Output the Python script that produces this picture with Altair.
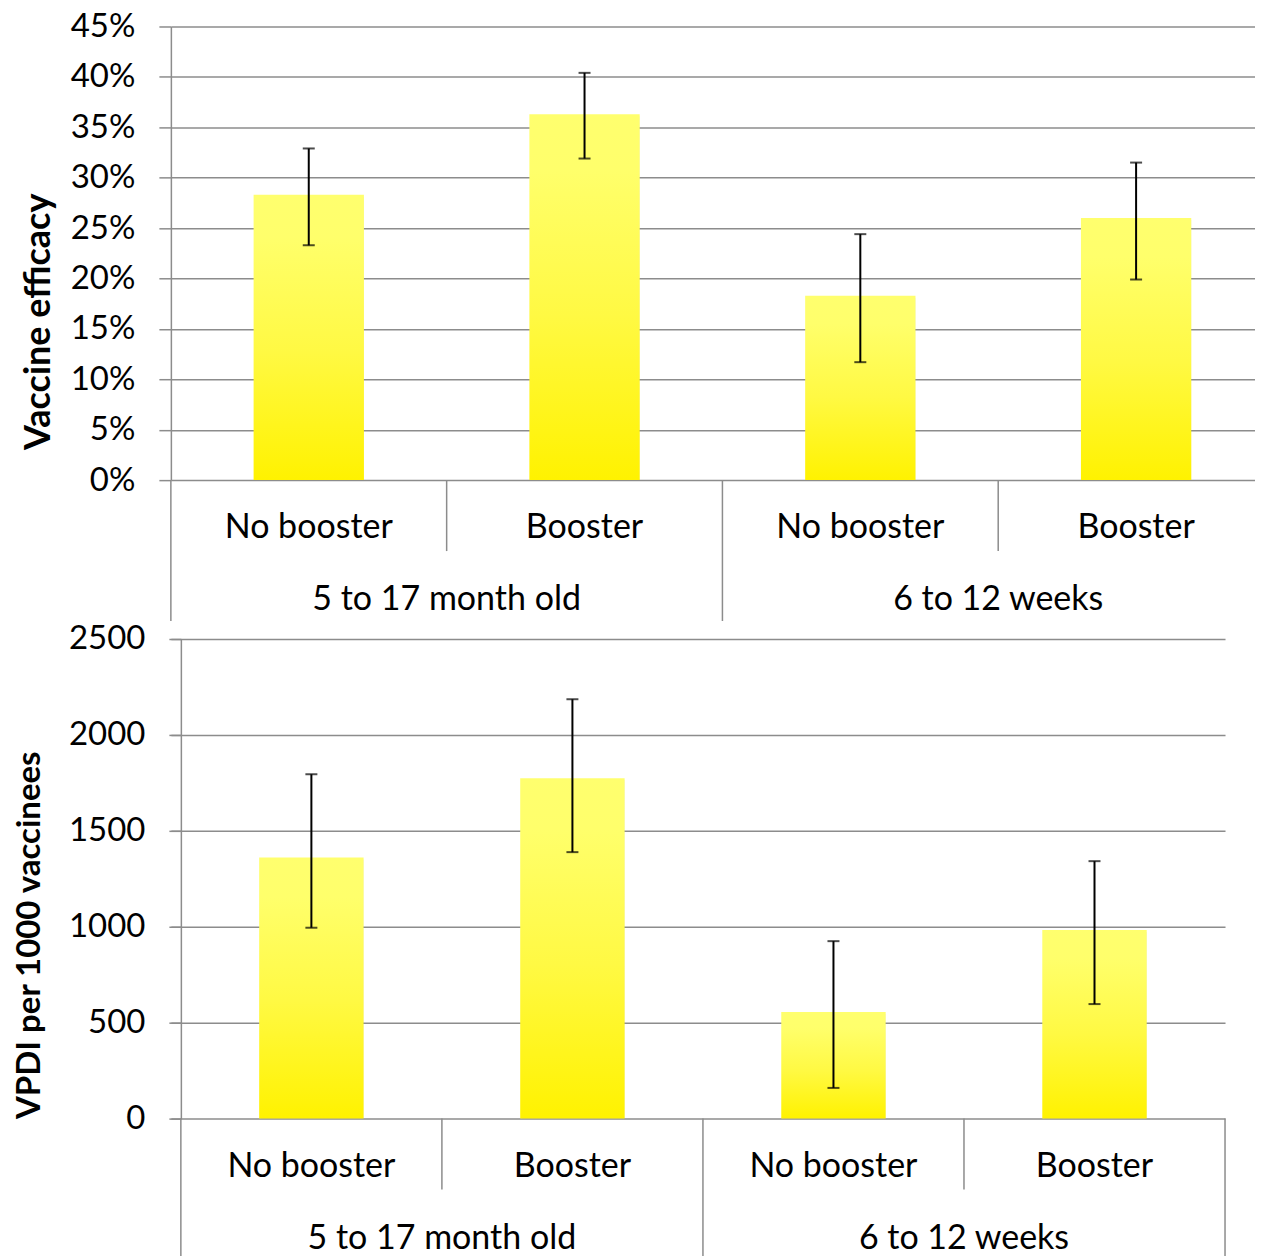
import altair as alt
import pandas as pd

groups = ["5 to 17 month old", "5 to 17 month old", "6 to 12 weeks", "6 to 12 weeks"]
boosters = ["No booster", "Booster", "No booster", "Booster"]

efficacy = [0.283, 0.363, 0.183, 0.260]
efficacy_low = [0.233, 0.319, 0.117, 0.199]
efficacy_high = [0.329, 0.404, 0.244, 0.315]
efficacy_ticks = [0, 0.05, 0.10, 0.15, 0.20, 0.25, 0.30, 0.35, 0.40, 0.45]

vpdi = [1361, 1774, 556, 983]
vpdi_low = [995, 1389, 160, 597]
vpdi_high = [1795, 2186, 925, 1342]
vpdi_ticks = [0, 500, 1000, 1500, 2000, 2500]

FONT = "Lato"
GRID = "#8c8c8c"
LFS = 34   # category label size
TFS = 33   # tick label size

gradient = alt.Gradient(
    gradient="linear",
    stops=[
        alt.GradientStop(color="#FFF200", offset=0),
        alt.GradientStop(color="#FFF943", offset=0.45),
        alt.GradientStop(color="#FFFF6B", offset=0.85),
        alt.GradientStop(color="#FFFF6E", offset=1),
    ],
    x1=0, x2=0, y1=1, y2=0,
)


def panel(values, low, high, ticks, fmt, title, width, height, xmin, xmax,
          axis_offset, title_x, title_y, title_size):
    n = len(values)
    bars = pd.DataFrame({
        "slot": list(range(n)), "group": groups, "booster": boosters,
        "value": values, "low": low, "high": high,
    })
    bars["mid"] = bars["slot"] + 0.5
    bars["left"] = bars["mid"] - 0.2
    bars["right"] = bars["mid"] + 0.2

    rows = []
    for i in range(n + 1):
        major = i == 0 or i == n or groups[i] != groups[i - 1]
        if i <= xmax:
            rows.append({"pos": i, "major": major})
    dividers = pd.DataFrame(rows)

    glab = bars.groupby("group", sort=False)["mid"].mean().reset_index()

    xs = alt.Scale(domain=[xmin, xmax], nice=False, zero=False)
    ys = alt.Scale(domain=[0, ticks[-1]], nice=False)

    yaxis = alt.Axis(
        values=ticks, format=fmt, title=title, grid=True, gridColor=GRID,
        gridWidth=1.5, domainColor=GRID, domainWidth=1.5, tickColor=GRID,
        tickSize=12, tickWidth=1.5, labelFont=FONT, labelFontSize=TFS,
        labelColor="black", labelPadding=24, titleFont=FONT, titleFontSize=title_size,
        titleFontWeight="bold", titleColor="black", titleX=title_x, titleY=title_y,
        titleAngle=270, titleBaseline="alphabetic", titleAlign="center",
        offset=axis_offset,
    )

    base = alt.Chart(bars)
    shadow = base.mark_bar(color="#000000", opacity=0.08, xOffset=2, yOffset=2).encode(
        x=alt.X("left:Q", scale=xs, axis=None), x2="right:Q",
        y=alt.Y("value:Q", scale=ys, axis=yaxis), y2=alt.datum(0),
    )
    bar = base.mark_bar(color=gradient).encode(
        x=alt.X("left:Q", scale=xs, axis=None), x2="right:Q",
        y=alt.Y("value:Q", scale=ys, axis=yaxis), y2=alt.datum(0),
    )
    err = base.mark_rule(color="black", strokeWidth=2).encode(
        x=alt.X("mid:Q", scale=xs, axis=None),
        y=alt.Y("low:Q", scale=ys), y2="high:Q",
    )
    cap_lo = base.mark_tick(color="black", thickness=2, size=12, orient="horizontal").encode(
        x=alt.X("mid:Q", scale=xs, axis=None), y=alt.Y("low:Q", scale=ys),
    )
    cap_hi = base.mark_tick(color="black", thickness=2, size=12, orient="horizontal").encode(
        x=alt.X("mid:Q", scale=xs, axis=None), y=alt.Y("high:Q", scale=ys),
    )
    dv = alt.Chart(dividers)
    minor = dv.transform_filter("!datum.major").mark_rule(color=GRID, strokeWidth=1.5).encode(
        x=alt.X("pos:Q", scale=xs, axis=None), y=alt.value(height), y2=alt.value(height + 71),
    )
    major = dv.transform_filter("datum.major").mark_rule(color=GRID, strokeWidth=1.5).encode(
        x=alt.X("pos:Q", scale=xs, axis=None), y=alt.value(height), y2=alt.value(height + 141),
    )
    inner = base.mark_text(font=FONT, fontSize=LFS, color="black", baseline="middle", align="center").encode(
        x=alt.X("mid:Q", scale=xs, axis=None), y=alt.value(height + 48), text="booster:N",
    )
    outer = alt.Chart(glab).mark_text(font=FONT, fontSize=LFS, color="black", baseline="middle", align="center").encode(
        x=alt.X("mid:Q", scale=xs, axis=None), y=alt.value(height + 120), text="group:N",
    )
    return alt.layer(shadow, bar, err, cap_lo, cap_hi, minor, major, inner, outer).properties(
        width=width, height=height
    )


top = panel(efficacy, efficacy_low, efficacy_high, efficacy_ticks, ".0%",
            "Vaccine efficacy", 1085, 454, 0, 1085 / 276, 0, -121, 295, 36)
bottom = panel(vpdi, vpdi_low, vpdi_high, vpdi_ticks, "d",
               "VPDI per 1000 vaccinees", 1055, 480, -10 / 261.25, 4, -10, -141, 296, 33)

chart = alt.ConcatChart(concat=[top, bottom], columns=1, spacing=1,
                        padding={"left": 6, "top": 2, "right": 0, "bottom": 0},
                        background="white").configure_view(stroke=None)

chart.save("out.html", embed_options={"renderer": "svg", "actions": False})
